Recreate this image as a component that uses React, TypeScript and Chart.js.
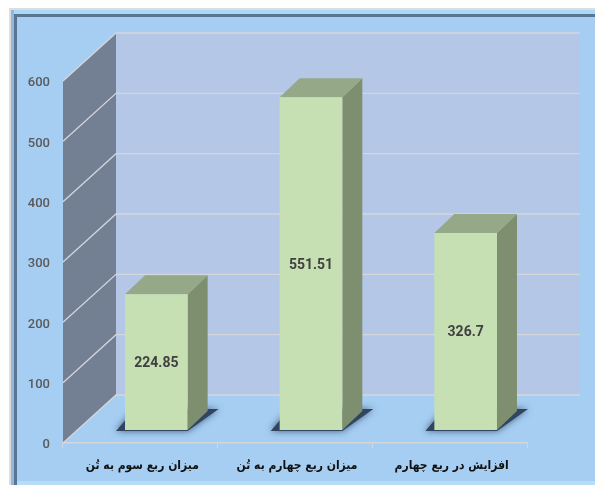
import React, { useEffect, useRef } from "react";
import Chart from "chart.js/auto";

const categories = ["میزان ربع سوم به تُن", "میزان ربع چهارم به تُن", "افزایش در ربع چهارم"];
const values = [224.85, 551.51, 326.7];
const yTicks = [0, 100, 200, 300, 400, 500, 600];

const DX = 53, DY = 48;       // wall depth
const BOX = 16, BOY = 13;     // bar plane offset
const BDX = 20, BDY = 19;     // bar depth

const poly = (ctx: CanvasRenderingContext2D, pts: number[][], fill: string) => {
  ctx.beginPath();
  pts.forEach((p, i) => (i ? ctx.lineTo(p[0], p[1]) : ctx.moveTo(p[0], p[1])));
  ctx.closePath();
  ctx.fillStyle = fill;
  ctx.fill();
};

const scene = {
  id: "scene",
  beforeDraw(chart: any) {
    const { ctx, width, height, scales } = chart;
    const { x, y } = scales;
    const L = x.left, R = x.right, B = y.bottom, T = y.top;
    ctx.save();
    ctx.fillStyle = "#ffffff";
    ctx.fillRect(0, 0, width, height);
    ctx.fillStyle = "#DDDDDD";
    ctx.fillRect(9, 8, width - 9, height - 8);
    ctx.fillStyle = "#A6CEF3";
    ctx.fillRect(11, 10, width - 11, height - 10);
    // bevelled frame
    ctx.fillStyle = "#A9D8F8"; ctx.fillRect(11, 10, width - 11, 4);
    ctx.fillStyle = "#8FB8DC"; ctx.fillRect(11, 10, 3, height - 10);
    ctx.fillStyle = "#5B7490"; ctx.fillRect(14, 14, width - 14, 3);
    ctx.fillRect(14, 14, 3, height - 14);
    ctx.fillStyle = "#B5DDF9"; ctx.fillRect(17, height - 4, width - 17, 4);
    // back and side walls
    poly(ctx, [[L + DX, T - DY], [R + DX, T - DY], [R + DX, B - DY], [L + DX, B - DY]], "#B4C7E7");
    poly(ctx, [[L, T], [L + DX, T - DY], [L + DX, B - DY], [L, B]], "#737F93");
    // grid
    ctx.strokeStyle = "#D3D6DB";
    ctx.lineWidth = 1.3;
    yTicks.forEach((v) => {
      const py = y.getPixelForValue(v);
      ctx.beginPath();
      ctx.moveTo(L, py);
      ctx.lineTo(L + DX, py - DY);
      ctx.lineTo(R + DX, py - DY);
      ctx.stroke();
    });
    // contact shadows
    chart.getDatasetMeta(0).data.forEach((b: any) => {
      const l = b.x - b.width / 2 + BOX, r = b.x + b.width / 2 + BOX, by = b.base - BOY;
      ctx.save();
      ctx.shadowColor = "rgba(25,45,70,0.7)";
      ctx.shadowBlur = 7;
      poly(ctx, [[l - 9, by + 1], [r, by + 1], [r + BDX + 11, by - BDY - 2], [l + 10, by - BDY - 2]], "#2F4560");
      ctx.restore();
    });
    ctx.restore();
  },
  beforeDatasetDraw(chart: any) {
    const { ctx } = chart;
    ctx.save();
    ctx.translate(BOX, -BOY);
    chart.getDatasetMeta(0).data.forEach((b: any) => {
      const l = b.x - b.width / 2, r = b.x + b.width / 2;
      poly(ctx, [[r, b.y], [r + BDX, b.y - BDY], [r + BDX, b.base - BDY], [r, b.base]], "#7E8F70");
      poly(ctx, [[l, b.y], [l + BDX, b.y - BDY], [r + BDX, b.y - BDY], [r, b.y]], "#95A888");
    });
  },
  afterDatasetDraw(chart: any) {
    const { ctx } = chart;
    ctx.restore();
    ctx.save();
    ctx.fillStyle = "#404040";
    ctx.font = "bold 14px Roboto, sans-serif";
    ctx.textAlign = "center";
    ctx.textBaseline = "middle";
    chart.getDatasetMeta(0).data.forEach((b: any, i: number) => {
      ctx.fillText(String(values[i]), b.x + BOX, (b.y + b.base) / 2 - BOY + 1.5);
    });
    ctx.restore();
  },
};

export default function App() {
  const ref = useRef<HTMLCanvasElement>(null);
  useEffect(() => {
    const chart = new Chart(ref.current!, {
      type: "bar",
      data: {
        labels: categories,
        datasets: [{
          data: values,
          backgroundColor: "#C6E0B4",
          barPercentage: 0.405,
          categoryPercentage: 1,
        }],
      },
      plugins: [scene],
      options: {
        responsive: false,
        animation: false,
        layout: { padding: { left: 0, right: 68, top: 81, bottom: 0 } },
        plugins: { legend: { display: false }, tooltip: { enabled: false } },
        scales: {
          x: {
            afterFit: (s: any) => { s.height = 42; },
            grid: { drawOnChartArea: false, drawTicks: true, tickLength: 5, color: "#D3D6DB" },
            border: { color: "#D3D6DB", width: 1.5 },
            ticks: { color: "#111111", padding: 11, labelOffset: 2, maxRotation: 0, font: { family: "'DejaVu Sans Condensed', 'DejaVu Sans'", weight: "bold", size: 12 } },
          },
          y: {
            min: 0,
            max: 600,
            afterFit: (s: any) => { s.width = 63; },
            afterBuildTicks: (s: any) => { s.ticks = yTicks.map((value) => ({ value })); },
            grid: { display: false, drawTicks: false },
            border: { display: false },
            ticks: { color: "#595959", padding: 13, labelOffset: 2, font: { family: "Roboto, sans-serif", weight: "500", size: 13 } },
          },
        },
      } as any,
    });
    return () => chart.destroy();
  }, []);
  return (
    <div style={{ position: "fixed", left: 0, top: 0, width: 595, height: 485 }}>
      <canvas ref={ref} width={595} height={485} style={{ display: "block" }} />
    </div>
  );
}
